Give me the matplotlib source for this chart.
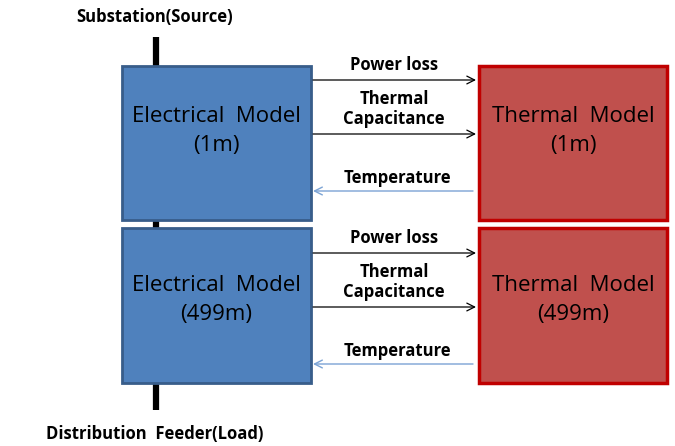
import matplotlib.pyplot as plt
from matplotlib.patches import Rectangle

plt.rcParams['font.family'] = ['Open Sans', 'DejaVu Sans']

segments = ["1m", "499m"]
elec_label = "Electrical  Model"
therm_label = "Thermal  Model"
forward_labels = ["Power loss", "Thermal\nCapacitance"]
back_label = "Temperature"
top_label = "Substation(Source)"
bottom_label = "Distribution  Feeder(Load)"

fig = plt.figure(figsize=(6.75, 4.46), dpi=100)
ax = fig.add_axes([0, 0, 1, 1])
ax.set_xlim(0, 675)
ax.set_ylim(446, 0)
ax.axis('off')

# feeder line
ax.plot([156, 156], [37, 410], color='black', lw=4.5, solid_capstyle='butt', zorder=1)

box_tops = [66, 228]
box_hs = [154, 155]
text_ys = [131, 300]
link_base = [80, 253]
for i, seg in enumerate(segments):
    y0 = box_tops[i]
    ax.add_patch(Rectangle((122, y0), 189, box_hs[i], facecolor='#4F81BD',
                           edgecolor='#385D8A', lw=2, zorder=2))
    ax.add_patch(Rectangle((479, y0), 188, box_hs[i], facecolor='#C0504D',
                           edgecolor='#C00000', lw=2.5, zorder=2))
    ax.text(216, text_ys[i], f"{elec_label}\n({seg})", ha='center', va='center',
            fontsize=16, linespacing=1.45, zorder=3)
    ax.text(573, text_ys[i], f"{therm_label}\n({seg})", ha='center', va='center',
            fontsize=16, linespacing=1.45, zorder=3)

    # forward arrows
    b = link_base[i]
    arrow_ys = [b, b + 54]
    label_ys = [b - 15, b + 29]
    for lab, ay, ly in zip(forward_labels, arrow_ys, label_ys):
        ax.annotate('', xy=(476, ay), xytext=(313, ay),
                    arrowprops=dict(arrowstyle='->', color='black', lw=0.9,
                                    shrinkA=0, shrinkB=0, mutation_scale=14))
        ax.text(394, ly, lab, ha='center', va='center', fontsize=12,
                fontweight='bold', linespacing=1.15)
    # temperature arrow
    ty = b + 111
    ax.annotate('', xy=(313, ty), xytext=(473, ty),
                arrowprops=dict(arrowstyle='->', color='#7BA3D4', lw=1.0,
                                shrinkA=0, shrinkB=0, mutation_scale=14))
    ax.text(397, ty - 13, back_label, ha='center', va='center', fontsize=12,
            fontweight='bold')

ax.text(155, 17, top_label, ha='center', va='center', fontsize=12, fontweight='bold')
ax.text(155, 434, bottom_label, ha='center', va='center', fontsize=12, fontweight='bold')

fig.savefig('out.png', dpi=100)
